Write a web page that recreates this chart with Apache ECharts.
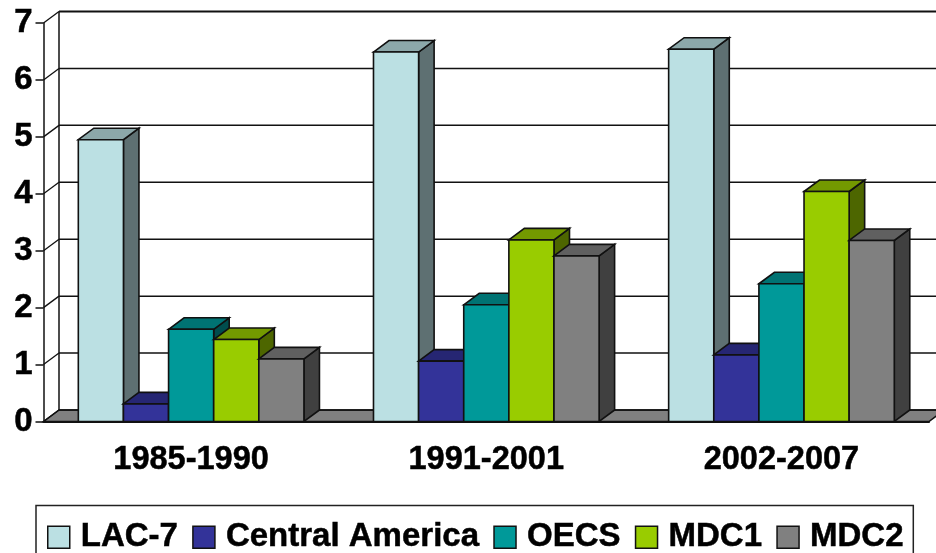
<!DOCTYPE html>
<html>
<head>
<meta charset="utf-8">
<title>Growth by period</title>
<style>html,body{margin:0;padding:0;background:#fff}#chart{width:936px;height:553px}</style>
<script src="https://cdn.jsdelivr.net/npm/echarts@6/dist/echarts.min.js"></script>
</head>
<body>
<div id="chart"></div>
<script>
const periods = ['1985-1990', '1991-2001', '2002-2007'];
const yTicks = [0, 1, 2, 3, 4, 5, 6, 7];
const lac7 = [4.95, 6.49, 6.54];
const centralAmerica = [0.31, 1.06, 1.17];
const oecs = [1.62, 2.05, 2.42];
const mdc1 = [1.44, 3.19, 4.04];
const mdc2 = [1.10, 2.91, 3.18];

// Front, top and side shades of each column
const palette = [
  ['#BBE0E3', '#8CA8AA', '#5E7072'],
  ['#333399', '#262673', '#1A1A4D'],
  ['#009999', '#007373', '#004D4D'],
  ['#99CC00', '#739900', '#4D6600'],
  ['#808080', '#606060', '#404040']
];
const seriesDefs = [
  ['LAC-7', lac7],
  ['Central America', centralAmerica],
  ['OECS', oecs],
  ['MDC1', mdc1],
  ['MDC2', mdc2]
];

const FONT = '"Liberation Sans", Arial, sans-serif';
const INK = '#111111';
const DEPTH_X = 15.5;   // oblique projection offset of the back wall
const DEPTH_Y = 11.5;
const GROUP_LEAD = 34.8 / 295;   // blank space before the first column, share of a band
const BAR_SHARE = 45.1 / 295;    // column width, share of a band
const LABEL_WEIGHT = { fontFamily: FONT, fontWeight: 'bold', fontSize: 33, color: '#000', textBorderColor: '#000', textBorderWidth: 0.5 };

function poly(points, fill, lw) {
  return {
    type: 'polygon',
    shape: { points: points },
    style: { fill: fill, stroke: INK, lineWidth: lw, lineJoin: 'miter' }
  };
}
function seg(x1, y1, x2, y2, lw) {
  return {
    type: 'line',
    shape: { x1: x1, y1: y1, x2: x2, y2: y2 },
    style: { stroke: INK, lineWidth: lw, fill: null }
  };
}

// Back wall, side wall and floor of the 3-D box
function renderWall(params, api) {
  const rect = params.coordSys;
  const v = api.value(0);
  const y = api.coord([0, v])[1];
  const left = rect.x;
  const right = rect.x + rect.width;
  const children = [
    seg(left, y, left + DEPTH_X, y - DEPTH_Y, 1.3),
    seg(left + DEPTH_X, y - DEPTH_Y, right + DEPTH_X, y - DEPTH_Y, v === yTicks[yTicks.length - 1] ? 2 : 1.5)
  ];
  if (v === 0) {
    children.unshift(poly([
      [left, y], [left + DEPTH_X, y - DEPTH_Y],
      [right + DEPTH_X, y - DEPTH_Y], [right, y]
    ], '#808080', 1.5));
    children.push(seg(left + DEPTH_X, y - DEPTH_Y, left + DEPTH_X, rect.y - DEPTH_Y, 1.5));
  }
  return { type: 'group', children: children };
}

// One extruded column: front face plus top and right faces
function renderColumn(slot) {
  return function (params, api) {
    const cat = api.value(0);
    const band = api.size([1, 0])[0];
    const top = api.coord([cat, api.value(1)]);
    const base = api.coord([cat, 0]);
    const x0 = top[0] - band / 2 + band * GROUP_LEAD + band * BAR_SHARE * slot;
    const x1 = x0 + band * BAR_SHARE;
    const y0 = top[1];
    const y1 = base[1];
    const c = palette[slot];
    return {
      type: 'group',
      children: [
        poly([[x1, y0], [x1 + DEPTH_X, y0 - DEPTH_Y], [x1 + DEPTH_X, y1 - DEPTH_Y], [x1, y1]], c[2], 1.6),
        poly([[x0, y0], [x0 + DEPTH_X, y0 - DEPTH_Y], [x1 + DEPTH_X, y0 - DEPTH_Y], [x1, y0]], c[1], 1.6),
        poly([[x0, y0], [x1, y0], [x1, y1], [x0, y1]], c[0], 1.6)
      ]
    };
  };
}

const series = [{
  type: 'custom',
  name: 'wall',
  silent: true,
  z: 1,
  encode: { y: 0 },
  data: yTicks.map(function (t) { return [t]; }),
  renderItem: renderWall
}].concat(seriesDefs.map(function (def, slot) {
  return {
    type: 'custom',
    name: def[0],
    z: 2 + slot,
    itemStyle: { color: palette[slot][0], borderColor: INK, borderWidth: 1.5 },
    encode: { x: 0, y: 1 },
    data: def[1].map(function (v, i) { return [i, v]; }),
    renderItem: renderColumn(slot)
  };
}));

const chart = echarts.init(document.getElementById('chart'), null, { renderer: 'canvas' });
chart.setOption({
  animation: false,
  backgroundColor: '#ffffff',
  grid: { left: 43.5, top: 23, width: 885.5, height: 398.5, containLabel: false },
  xAxis: {
    type: 'category',
    data: periods,
    z: 20,
    axisLine: { lineStyle: { color: INK, width: 2 } },
    axisTick: { length: 8, lineStyle: { color: INK, width: 1.5 } },
    axisLabel: Object.assign({}, LABEL_WEIGHT, { margin: 22, fontSize: 32.5 }),
    splitLine: { show: false }
  },
  yAxis: {
    type: 'value',
    min: 0,
    max: 7,
    interval: 1,
    z: 20,
    axisLine: { show: true, lineStyle: { color: INK, width: 1.5 } },
    axisTick: { show: true, length: 8, lineStyle: { color: INK, width: 1.5 } },
    axisLabel: Object.assign({ margin: 11, padding: [3, 0, 0, 0] }, LABEL_WEIGHT),
    splitLine: { show: false }
  },
  legend: {
    data: seriesDefs.map(function (d) { return d[0]; }),
    left: 36,
    top: 505.5,
    orient: 'horizontal',
    icon: 'rect',
    itemWidth: 22,
    itemHeight: 22,
    itemGap: 14,
    selectedMode: false,
    borderColor: '#222',
    borderWidth: 1.5,
    padding: [15, 9.5, 30, 11],
    itemStyle: { borderColor: INK, borderWidth: 1.5 },
    textStyle: Object.assign({ padding: [0, 0, 0, 6] }, LABEL_WEIGHT)
  },
  series: series
});
</script>
</body>
</html>
